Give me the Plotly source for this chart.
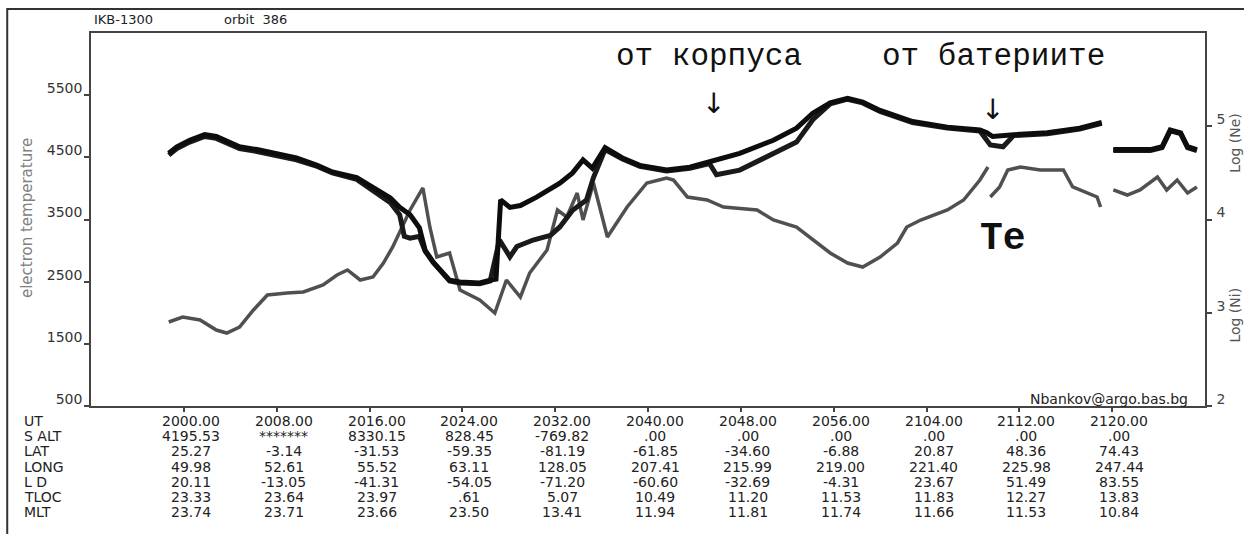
import plotly.graph_objects as go

# ---------------- data ----------------
# time axis: minutes after 20:00 UT
ut_minutes = [0, 8, 16, 24, 32, 40, 48, 56, 64, 72, 80]
row_labels = ["UT", "S ALT", "LAT", "LONG", "L D", "TLOC", "MLT"]
ut_labels = ["2000.00", "2008.00", "2016.00", "2024.00", "2032.00", "2040.00",
             "2048.00", "2056.00", "2104.00", "2112.00", "2120.00"]
salt = ["4195.53", "*******", "8330.15", "828.45", "-769.82", ".00", ".00", ".00", ".00", ".00", ".00"]
lat = ["25.27", "-3.14", "-31.53", "-59.35", "-81.19", "-61.85", "-34.60", "-6.88", "20.87", "48.36", "74.43"]
long_ = ["49.98", "52.61", "55.52", "63.11", "128.05", "207.41", "215.99", "219.00", "221.40", "225.98", "247.44"]
ld = ["20.11", "-13.05", "-41.31", "-54.05", "-71.20", "-60.60", "-32.69", "-4.31", "23.67", "51.49", "83.55"]
tloc = ["23.33", "23.64", "23.97", ".61", "5.07", "10.49", "11.20", "11.53", "11.83", "12.27", "13.83"]
mlt = ["23.74", "23.71", "23.66", "23.50", "13.41", "11.94", "11.81", "11.74", "11.66", "11.53", "10.84"]

te_ticks = [500, 1500, 2500, 3500, 4500, 5500]
log_ticks = [2, 3, 4, 5]

# electron temperature (left axis)
te_t = [-1.3, -0.1, 1.4, 2.8, 3.7, 4.8, 6.0, 7.2, 8.9, 10.3, 12.0, 13.2, 14.1, 15.2, 16.3, 17.2,
        18.0, 18.8, 19.5, 20.6, 21.2, 21.8, 22.9, 23.8, 25.5, 26.8, 27.8, 29.0, 29.8, 31.3, 32.2,
        33.0, 33.9, 34.4, 35.3, 36.5, 38.2, 39.9, 41.6, 42.2, 43.4, 45.1, 46.5, 49.4, 50.8, 52.8,
        54.2, 55.7, 57.2, 58.5, 60.0, 61.5, 62.3, 63.5, 65.8, 67.2, 68.6, 69.3, None,
        69.5, 70.3, 71.0, 72.1, 73.8, 75.8, 76.6, 78.7, 79.0, None,
        80.1, 81.3, 82.4, 83.9, 84.7, 85.6, 86.5, 87.3]
te_v = [1851, 1930, 1883, 1722, 1674, 1771, 2044, 2286, 2318, 2334, 2446, 2607, 2688, 2527, 2575, 2800,
        3058, 3379, 3653, 4007, 3379, 2897, 2961, 2366, 2205, 1996, 2527, 2253, 2639, 3009, 3653,
        3540, 3926, 3492, 4087, 3219, 3701, 4087, 4168, 4135, 3862, 3814, 3701, 3653, 3492, 3379,
        3170, 2961, 2800, 2736, 2897, 3122, 3379, 3492, 3653, 3814, 4135, 4344, None,
        3862, 4023, 4296, 4344, 4296, 4296, 4023, 3862, 3701, None,
        3975, 3894, 3975, 4184, 3975, 4135, 3926, 4023]

# log electron density (right axis)
ne_t = [-1.3, -0.6, 0.5, 1.8, 2.8, 4.8, 6.3, 8.0, 9.7, 11.5, 12.8, 14.9, 16.3, 17.8, 18.6, 19.5,
        20.3, 20.8, 21.5, 22.9, 23.8, 25.5, 26.4, 26.9, 27.3, 28.1, 29.0, 30.4, 32.4, 33.5, 34.4,
        35.2, 36.3, 37.8, 39.3, 41.6, 43.6, 45.3, 47.9, 50.8, 52.8, 54.2, 55.7, 57.2, 58.5, 60.0,
        61.5, 62.8, 65.8, 68.6, 69.2, 69.7, 71.5, 74.4, 77.2, 79.1, None,
        80.1, 81.8, 83.3, 84.3, 85.0, 85.9, 86.5, 87.3]
ne_v = [4.71, 4.78, 4.85, 4.91, 4.89, 4.78, 4.75, 4.71, 4.66, 4.58, 4.51, 4.45, 4.34, 4.23, 4.13, 4.05,
        3.91, 3.67, 3.54, 3.35, 3.33, 3.32, 3.35, 3.36, 4.21, 4.13, 4.15, 4.24, 4.39, 4.50, 4.64,
        4.55, 4.77, 4.66, 4.58, 4.53, 4.56, 4.62, 4.71, 4.85, 4.98, 5.14, 5.25, 5.30, 5.26, 5.17,
        5.10, 5.05, 4.99, 4.96, 4.93, 4.89, 4.91, 4.93, 4.98, 5.04, None,
        4.75, 4.75, 4.75, 4.78, 4.96, 4.93, 4.78, 4.75]

# log ion density (right axis)
ni_t = [-1.3, -0.6, 0.5, 1.8, 2.8, 4.8, 6.3, 8.0, 9.7, 11.5, 12.8, 14.9, 16.3, 17.8, 18.6, 19.0,
        19.5, 20.3, 20.8, 21.5, 22.9, 23.8, 25.5, 26.4, 27.2, 28.1, 28.7, 30.1, 31.6, 32.4, 33.5,
        34.7, 35.3, 36.3, 37.8, 39.3, 41.6, 43.6, 45.3, 45.9, 47.9, 50.8, 52.8, 54.2, 55.7, 57.2,
        58.5, 60.0, 61.5, 62.8, 65.8, 68.6, 69.5, 70.6, 71.5, 74.4, 77.2, 79.1, None,
        80.1, 81.8, 83.3, 84.3, 85.0, 85.9, 86.5, 87.3]
ni_v = [4.69, 4.76, 4.83, 4.89, 4.87, 4.76, 4.73, 4.69, 4.64, 4.57, 4.50, 4.43, 4.31, 4.18, 4.05, 3.82,
        3.80, 3.82, 3.66, 3.54, 3.34, 3.32, 3.31, 3.34, 3.78, 3.60, 3.71, 3.78, 3.83, 3.92, 4.10,
        4.21, 4.45, 4.75, 4.65, 4.57, 4.52, 4.55, 4.60, 4.48, 4.53, 4.71, 4.83, 5.07, 5.24, 5.29,
        5.25, 5.16, 5.09, 5.04, 4.98, 4.95, 4.80, 4.78, 4.90, 4.92, 4.97, 5.03, None,
        4.74, 4.74, 4.74, 4.77, 4.95, 4.92, 4.77, 4.74]

# ---------------- figure ----------------
SANS = "DejaVu Sans"
MONO = "Courier New, Liberation Mono, monospace"
AX = "#444444"

fig = go.Figure()
fig.add_trace(go.Scatter(x=te_t, y=te_v, mode="lines", name="Te",
                         line=dict(color="#505050", width=3.5), connectgaps=False, yaxis="y"))
fig.add_trace(go.Scatter(x=ni_t, y=ni_v, mode="lines", name="Ni",
                         line=dict(color="#1a1a1a", width=5), connectgaps=False, yaxis="y2"))
fig.add_trace(go.Scatter(x=ne_t, y=ne_v, mode="lines", name="Ne",
                         line=dict(color="#0d0d0d", width=5), connectgaps=False, yaxis="y2"))

annotations = []
# table below the x axis
rows = [ut_labels, salt, lat, long_, ld, tloc, mlt]
row_y0 = -0.0402
row_dy = 0.0408
for r, (lab, vals) in enumerate(zip(row_labels, rows)):
    yy = row_y0 - r * row_dy
    annotations.append(dict(x=-0.0619, y=yy, xref="paper", yref="paper", text=lab,
                            showarrow=False, xanchor="left", yanchor="middle",
                            font=dict(family=SANS, size=14, color="#222222")))
    for m, v in zip(ut_minutes, vals):
        annotations.append(dict(x=m, y=yy, xref="x", yref="paper", text=v, xshift=7,
                                showarrow=False, xanchor="center", yanchor="middle",
                                font=dict(family=SANS, size=14, color="#222222")))

# header
annotations.append(dict(x=0.0009, y=1.0349, xref="paper", yref="paper", text="IKB-1300",
                        showarrow=False, xanchor="left", yanchor="middle",
                        font=dict(family=SANS, size=13, color="#222222")))
annotations.append(dict(x=0.1176, y=1.0349, xref="paper", yref="paper", text="orbit  386",
                        showarrow=False, xanchor="left", yanchor="middle",
                        font=dict(family=SANS, size=13, color="#222222")))
# credit
annotations.append(dict(x=0.9866, y=0.0188, xref="paper", yref="paper", text="Nbankov@argo.bas.bg",
                        showarrow=False, xanchor="right", yanchor="middle",
                        font=dict(family=SANS, size=14, color="#222222")))
# axis titles
annotations.append(dict(x=-0.0574, y=0.504, xref="paper", yref="paper", text="electron temperature",
                        showarrow=False, textangle=-90, xanchor="center", yanchor="middle",
                        font=dict(family=SANS, size=15, color="#808080")))
annotations.append(dict(x=1.0266, y=0.705, xref="paper", yref="paper", text="Log (Ne)",
                        showarrow=False, textangle=-90, xanchor="center", yanchor="middle",
                        font=dict(family=SANS, size=14, color="#555555")))
annotations.append(dict(x=1.0266, y=0.244, xref="paper", yref="paper", text="Log (Ni)",
                        showarrow=False, textangle=-90, xanchor="center", yanchor="middle",
                        font=dict(family=SANS, size=14, color="#555555")))
# event labels
annotations.append(dict(x=45.24, y=0.9357, xref="x", yref="paper", text="от корпуса",
                        showarrow=False, xanchor="center", yanchor="middle",
                        font=dict(family=MONO, size=31, color="#111111")))
annotations.append(dict(x=69.76, y=0.9357, xref="x", yref="paper", text="от батериите",
                        showarrow=False, xanchor="center", yanchor="middle",
                        font=dict(family=MONO, size=31, color="#111111")))
annotations.append(dict(x=45.67, y=0.812, xref="x", yref="paper", text="↓",
                        showarrow=False, xanchor="center", yanchor="middle",
                        font=dict(family="DejaVu Sans", size=28, color="#111111")))
annotations.append(dict(x=69.72, y=0.7936, xref="x", yref="paper", text="↓",
                        showarrow=False, xanchor="center", yanchor="middle",
                        font=dict(family="DejaVu Sans", size=28, color="#111111")))
annotations.append(dict(x=70.6, y=3200, xref="x", yref="y", text="<b>Te</b>",
                        showarrow=False, xanchor="center", yanchor="middle",
                        font=dict(family=MONO, size=38, color="#111111")))

# outer frame
shapes = [dict(type="rect", xref="paper", yref="paper", x0=-0.0752, x1=1.2, y0=-0.6, y1=1.0643,
               line=dict(color="#333333", width=2), fillcolor="rgba(0,0,0,0)", layer="below")]

fig.update_layout(
    width=1244, height=534,
    margin=dict(l=91, r=39, t=33, b=128),
    paper_bgcolor="white", plot_bgcolor="white",
    showlegend=False,
    annotations=annotations, shapes=shapes,
    xaxis=dict(range=[-8, 88], tickvals=ut_minutes, showticklabels=False,
               ticks="outside", ticklen=4, tickcolor=AX, tickwidth=1.5,
               showline=True, linecolor=AX, linewidth=1.5, mirror=True,
               showgrid=False, zeroline=False),
    yaxis=dict(range=[500, 6500], tickvals=te_ticks, ticktext=[str(v) for v in te_ticks],
               ticks="outside", ticklen=5, tickcolor=AX, tickwidth=1.5,
               ticklabelshift=-7, ticklabelstandoff=-1,
               tickfont=dict(family=SANS, size=14, color="#333333"),
               showline=True, linecolor=AX, linewidth=1.5,
               showgrid=False, zeroline=False),
    yaxis2=dict(range=[2, 6], tickvals=log_ticks, ticktext=[str(v) for v in log_ticks],
                overlaying="y", side="right",
                ticks="outside", ticklen=5, tickcolor=AX, tickwidth=1.5,
                ticklabelshift=-7, ticklabelstandoff=2,
                tickfont=dict(family=SANS, size=14, color="#444444"),
                showline=True, linecolor=AX, linewidth=1.5,
                showgrid=False, zeroline=False),
)

fig.write_html("out.html", config={"displayModeBar": False},
               post_script="document.body.style.margin='0px';document.body.style.overflow='hidden';")
